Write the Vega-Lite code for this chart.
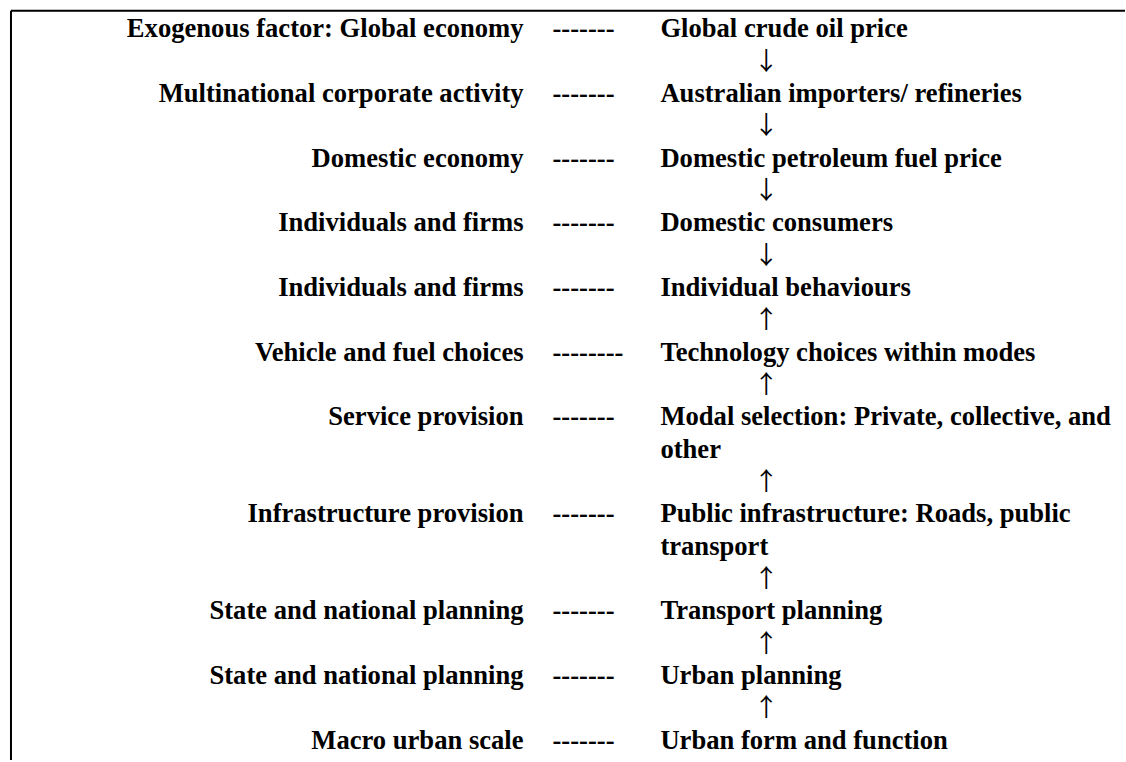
{
  "$schema": "https://vega.github.io/schema/vega-lite/v6.json",
  "width": 1126,
  "height": 762,
  "autosize": {"type": "fit", "contains": "padding"},
  "padding": 0,
  "background": "white",
  "config": {
    "view": {"stroke": null},
    "text": {"font": "Liberation Serif", "fontSize": 26.6, "fontWeight": "bold", "fill": "black"}
  },
  "datasets": {
    "rows": [
      {"line": 0, "factor": "Exogenous factor: Global economy", "link": "-------", "stage": "Global crude oil price"},
      {"line": 2, "factor": "Multinational corporate activity", "link": "-------", "stage": "Australian importers/ refineries"},
      {"line": 4, "factor": "Domestic economy", "link": "-------", "stage": "Domestic petroleum fuel price"},
      {"line": 6, "factor": "Individuals and firms", "link": "-------", "stage": "Domestic consumers"},
      {"line": 8, "factor": "Individuals and firms", "link": "-------", "stage": "Individual behaviours"},
      {"line": 10, "factor": "Vehicle and fuel choices", "link": "--------", "stage": "Technology choices within modes"},
      {"line": 12, "factor": "Service provision", "link": "-------", "stage": "Modal selection: Private, collective, and\nother"},
      {"line": 15, "factor": "Infrastructure provision", "link": "-------", "stage": "Public infrastructure: Roads, public\ntransport"},
      {"line": 18, "factor": "State and national planning", "link": "-------", "stage": "Transport planning"},
      {"line": 20, "factor": "State and national planning", "link": "-------", "stage": "Urban planning"},
      {"line": 22, "factor": "Macro urban scale", "link": "-------", "stage": "Urban form and function"}
    ],
    "arrows": [
      {"line": 1, "arrow": "↓"},
      {"line": 3, "arrow": "↓"},
      {"line": 5, "arrow": "↓"},
      {"line": 7, "arrow": "↓"},
      {"line": 9, "arrow": "↑"},
      {"line": 11, "arrow": "↑"},
      {"line": 14, "arrow": "↑"},
      {"line": 17, "arrow": "↑"},
      {"line": 19, "arrow": "↑"},
      {"line": 21, "arrow": "↑"}
    ]
  },
  "layer": [
    {
      "data": {"values": [{}]},
      "mark": {"type": "rule", "color": "black", "strokeWidth": 2},
      "encoding": {
        "x": {"datum": 11, "type": "quantitative", "scale": {"domain": [0, 1126], "nice": false, "zero": false}, "axis": null},
        "x2": {"datum": 1126},
        "y": {"datum": -0.57, "type": "quantitative", "scale": {"domain": [-0.906, 22.504], "reverse": true, "nice": false, "zero": false}, "axis": null}
      }
    },
    {
      "data": {"values": [{}]},
      "mark": {"type": "rule", "color": "black", "strokeWidth": 2},
      "encoding": {
        "x": {"datum": 11, "type": "quantitative"},
        "y": {"datum": -0.57, "type": "quantitative"},
        "y2": {"datum": 22.6}
      }
    },
    {
      "data": {"name": "rows"},
      "mark": {"type": "text", "align": "right", "baseline": "alphabetic", "dy": 8},
      "encoding": {
        "x": {"datum": 524, "type": "quantitative"},
        "y": {"field": "line", "type": "quantitative"},
        "text": {"field": "factor"}
      }
    },
    {
      "data": {"name": "rows"},
      "mark": {"type": "text", "align": "left", "baseline": "alphabetic", "dy": 8},
      "encoding": {
        "x": {"datum": 553, "type": "quantitative"},
        "y": {"field": "line", "type": "quantitative"},
        "text": {"field": "link"}
      }
    },
    {
      "data": {"name": "rows"},
      "mark": {"type": "text", "align": "left", "baseline": "alphabetic", "dy": 8, "lineBreak": "\n", "lineHeight": 32.55},
      "encoding": {
        "x": {"datum": 661, "type": "quantitative"},
        "y": {"field": "line", "type": "quantitative"},
        "text": {"field": "stage"}
      }
    },
    {
      "data": {"name": "arrows"},
      "mark": {"type": "text", "align": "center", "baseline": "middle", "font": "Noto Sans CJK JP", "fontSize": 25, "fontWeight": "normal", "fill": "black"},
      "encoding": {
        "x": {"datum": 767, "type": "quantitative"},
        "y": {"field": "line", "type": "quantitative"},
        "text": {"field": "arrow"}
      }
    }
  ]
}
